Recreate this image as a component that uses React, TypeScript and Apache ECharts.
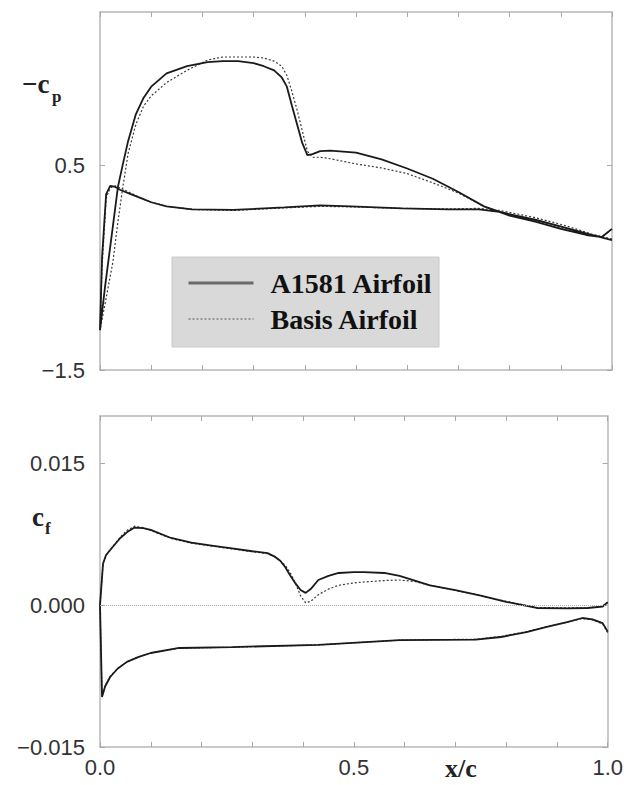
import React, { useEffect, useRef } from "react";
import * as echarts from "echarts";

// ---- Pressure coefficient (-Cp) ----
const cpUpperX = [0, 0.01, 0.025, 0.035, 0.045, 0.055, 0.07, 0.085, 0.1, 0.13, 0.17, 0.21, 0.24, 0.27, 0.3, 0.32, 0.34, 0.355, 0.365, 0.375, 0.385, 0.395, 0.405, 0.415, 0.43, 0.45, 0.5, 0.55, 0.6, 0.65, 0.7, 0.75, 0.8, 0.85, 0.9, 0.95, 0.98, 1.0];
const cpUpperA1581 = [-1.11, -0.68, -0.1, 0.29, 0.52, 0.74, 1.0, 1.16, 1.27, 1.4, 1.47, 1.51, 1.52, 1.52, 1.5, 1.47, 1.43, 1.36, 1.27, 1.08, 0.9, 0.72, 0.6, 0.61, 0.64, 0.645, 0.625, 0.56, 0.47, 0.37, 0.24, 0.1, 0.01, -0.05, -0.12, -0.18, -0.2, -0.12];
const cpUpperBasis = [-1.11, -0.85, -0.45, -0.05, 0.3, 0.62, 0.9, 1.08, 1.18, 1.31, 1.43, 1.53, 1.56, 1.56, 1.56, 1.55, 1.52, 1.47, 1.38, 1.22, 1.04, 0.84, 0.64, 0.58, 0.58, 0.565, 0.515, 0.475, 0.42, 0.33, 0.23, 0.1, 0.02, -0.04, -0.11, -0.17, -0.2, -0.12];
const cpLowerX = [0, 0.004, 0.012, 0.02, 0.03, 0.04, 0.06, 0.08, 0.1, 0.13, 0.18, 0.26, 0.36, 0.43, 0.49, 0.59, 0.68, 0.74, 0.78, 0.85, 0.91, 0.96, 1.0];
const cpLowerA1581 = [-1.11, -0.4, 0.22, 0.3, 0.29, 0.26, 0.22, 0.18, 0.14, 0.1, 0.07, 0.065, 0.09, 0.11, 0.1, 0.08, 0.07, 0.07, 0.045, -0.03, -0.11, -0.18, -0.23];
const cpLowerBasis = [-1.11, -0.5, 0.18, 0.28, 0.3, 0.28, 0.23, 0.18, 0.14, 0.1, 0.07, 0.06, 0.085, 0.1, 0.095, 0.08, 0.075, 0.08, 0.06, -0.01, -0.09, -0.17, -0.22];

// ---- Skin friction coefficient (cf) ----
const cfUpperX = [0, 0.006, 0.012, 0.025, 0.04, 0.053, 0.068, 0.085, 0.1, 0.14, 0.18, 0.22, 0.26, 0.3, 0.33, 0.345, 0.355, 0.365, 0.375, 0.385, 0.395, 0.405, 0.415, 0.43, 0.45, 0.47, 0.5, 0.52, 0.56, 0.59, 0.62, 0.65, 0.7, 0.75, 0.8, 0.86, 0.92, 0.96, 0.99, 1.0];
const cfUpperA1581 = [0, 0.0044, 0.0053, 0.00615, 0.0071, 0.0077, 0.0082, 0.00815, 0.00795, 0.0071, 0.0066, 0.0063, 0.006, 0.0057, 0.0055, 0.0051, 0.0047, 0.004, 0.0031, 0.0023, 0.0016, 0.0013, 0.0017, 0.00266, 0.0031, 0.0034, 0.0035, 0.0035, 0.0034, 0.0031, 0.0026, 0.0021, 0.0016, 0.001, 0.00035, -0.0003, -0.00035, -0.0003, -0.00015, 0.0003];
const cfUpperBasis = [0, 0.0044, 0.0053, 0.0062, 0.0072, 0.0079, 0.00835, 0.0082, 0.0079, 0.00705, 0.00655, 0.00625, 0.00595, 0.00565, 0.00545, 0.0051, 0.0047, 0.0042, 0.0034, 0.0023, 0.001, 0.00025, 0.0004, 0.0011, 0.0017, 0.0021, 0.00235, 0.00245, 0.0026, 0.00266, 0.0025, 0.0021, 0.00155, 0.001, 0.0004, -0.00025, -0.0003, -0.00028, -0.0001, 0.0003];
const cfLowerX = [0, 0.004, 0.01, 0.02, 0.035, 0.053, 0.075, 0.1, 0.156, 0.26, 0.43, 0.59, 0.74, 0.79, 0.84, 0.88, 0.92, 0.95, 0.97, 0.99, 1.0];
const cfLowerA1581 = [0, -0.0097, -0.0086, -0.0076, -0.0067, -0.006, -0.0055, -0.00506, -0.00453, -0.00443, -0.00421, -0.00369, -0.00365, -0.00337, -0.00285, -0.00231, -0.0018, -0.00136, -0.0015, -0.0019, -0.0028];
const cfLowerBasis = [0, -0.0096, -0.0085, -0.0075, -0.0067, -0.006, -0.0055, -0.00505, -0.00455, -0.00445, -0.0042, -0.0037, -0.0036, -0.0033, -0.0028, -0.0023, -0.0018, -0.0014, -0.00155, -0.002, -0.0029];

const cpTickLabels = [-1.5, 0.5];
const cfTickLabels = [-0.015, 0, 0.015];
const xTickLabels = [0, 0.5, 1.0];
const seriesNames = ["A1581 Airfoil", "Basis Airfoil"];

function loop(lx: number[], ly: number[], ux: number[], uy: number[]) {
  const pts: number[][] = [];
  for (let i = lx.length - 1; i >= 0; i--) pts.push([lx[i], ly[i]]);
  for (let i = 1; i < ux.length; i++) pts.push([ux[i], uy[i]]);
  return pts;
}

const minus = (s: string) => s.replace("-", "\u2212");

export default function App() {
  const ref = useRef<HTMLDivElement>(null);
  useEffect(() => {
    if (!ref.current) return;
    const chart = echarts.init(ref.current, null, { renderer: "svg" });
    const frame = "#b8b8b8";
    const tickStyle = { show: true, inside: true, length: 5, lineStyle: { color: "#a8a8a8" } };
    const labelFont = { fontFamily: "Liberation Sans", fontSize: 22, color: "#333" };
    const solid = { color: "#1a1a1a", width: 1.8, type: "solid" as const };
    const dashed = { color: "#3a3a3a", width: 1.2, type: [2, 2] as any };
    const xBase = (grid: number, pos: "top" | "bottom", labels: boolean) => ({
      type: "value" as const,
      gridIndex: grid,
      position: pos,
      min: 0,
      max: 1,
      interval: 0.1,
      axisLine: { show: true, onZero: false, lineStyle: { color: frame, width: 1.5 } },
      axisTick: tickStyle,
      splitLine: { show: false },
      axisLabel: labels
        ? {
            show: true,
            ...labelFont,
            margin: 9,
            showMinLabel: true,
            showMaxLabel: true,
            formatter: (v: number) =>
              xTickLabels.some((t) => Math.abs(t - v) < 1e-6) ? v.toFixed(1) : "",
          }
        : { show: false },
    });
    const yBase = (grid: number, pos: "left" | "right", min: number, max: number, vals: number[], digits: number, labels: boolean) => ({
      type: "value" as const,
      gridIndex: grid,
      position: pos,
      min,
      max,
      axisLine: { show: true, onZero: false, lineStyle: { color: frame, width: 1.5 } },
      axisTick: { ...tickStyle, customValues: vals },
      splitLine: { show: false },
      axisLabel: labels
        ? { show: true, ...labelFont, margin: 15, customValues: vals, formatter: (v: number) => minus(v.toFixed(digits)) }
        : { show: false, customValues: vals },
    });

    chart.setOption({
      animation: false,
      backgroundColor: "#ffffff",
      color: ["#1a1a1a", "#3a3a3a"],
      grid: [
        { left: 100, right: 14, top: 12, height: 358 },
        { left: 100, right: 14, top: 416, height: 331 },
      ],
      xAxis: [xBase(0, "bottom", false), xBase(0, "top", false), xBase(1, "bottom", true), xBase(1, "top", false)],
      yAxis: [
        yBase(0, "left", -1.5, 2.0, cpTickLabels, 1, true),
        yBase(0, "right", -1.5, 2.0, cpTickLabels, 1, false),
        yBase(1, "left", -0.015, 0.02, cfTickLabels, 3, true),
        yBase(1, "right", -0.015, 0.02, cfTickLabels, 3, false),
      ],
      legend: {
        left: 172,
        top: 257,
        orient: "vertical",
        selectedMode: false,
        backgroundColor: "#d9d9d9",
        borderColor: "#cacaca",
        borderWidth: 1,
        padding: [11, 6, 13, 15],
        itemWidth: 65,
        itemHeight: 14,
        itemGap: 6,
        itemStyle: { opacity: 0 },
        textStyle: {
          fontFamily: "Liberation Serif",
          fontWeight: "bold",
          fontSize: 28,
          color: "#111",
          lineHeight: 30,
          padding: [0, 0, 0, 12],
        },
        data: [
          { name: seriesNames[0], itemStyle: { opacity: 0 }, lineStyle: { color: "#6a6a6a", width: 3, type: "solid" } },
          { name: seriesNames[1], itemStyle: { opacity: 0 }, lineStyle: { color: "#555", width: 1.2, type: [2, 2] } },
        ],
      },
      series: [
        {
          name: seriesNames[0],
          type: "line",
          xAxisIndex: 0,
          yAxisIndex: 0,
          showSymbol: false,
          symbol: "none",
          lineStyle: solid,
          data: loop(cpLowerX, cpLowerA1581, cpUpperX, cpUpperA1581),
          z: 3,
        },
        {
          name: seriesNames[1],
          type: "line",
          xAxisIndex: 0,
          yAxisIndex: 0,
          showSymbol: false,
          symbol: "none",
          lineStyle: dashed,
          data: loop(cpLowerX, cpLowerBasis, cpUpperX, cpUpperBasis),
          z: 2,
        },
        {
          name: seriesNames[0],
          type: "line",
          xAxisIndex: 2,
          yAxisIndex: 2,
          showSymbol: false,
          symbol: "none",
          lineStyle: solid,
          data: loop(cfLowerX, cfLowerA1581, cfUpperX, cfUpperA1581),
          z: 3,
          markLine: {
            silent: true,
            symbol: "none",
            label: { show: false },
            lineStyle: { type: "dotted", color: "#aaa", width: 1 },
            data: [{ yAxis: 0 }],
          },
        },
        {
          name: seriesNames[1],
          type: "line",
          xAxisIndex: 2,
          yAxisIndex: 2,
          showSymbol: false,
          symbol: "none",
          lineStyle: dashed,
          data: loop(cfLowerX, cfLowerBasis, cfUpperX, cfUpperBasis),
          z: 2,
        },
      ],
      graphic: [
        { type: "text", left: 22, top: 70, style: { text: "\u2212c", font: "bold 27px 'Liberation Serif'", fill: "#222" } },
        { type: "text", left: 52, top: 88, style: { text: "p", font: "bold 17px 'Liberation Serif'", fill: "#222" } },
        { type: "text", left: 32, top: 503, style: { text: "c", font: "bold 27px 'Liberation Serif'", fill: "#222" } },
        { type: "text", left: 45, top: 520, style: { text: "f", font: "bold 17px 'Liberation Serif'", fill: "#222" } },
        { type: "text", left: 445, top: 755, style: { text: "x/c", font: "bold 26px 'Liberation Serif'", fill: "#222" } },
      ],
    });
    return () => chart.dispose();
  }, []);
  return <div ref={ref} style={{ position: "fixed", left: 0, top: 0, width: 626, height: 785 }} />;
}
